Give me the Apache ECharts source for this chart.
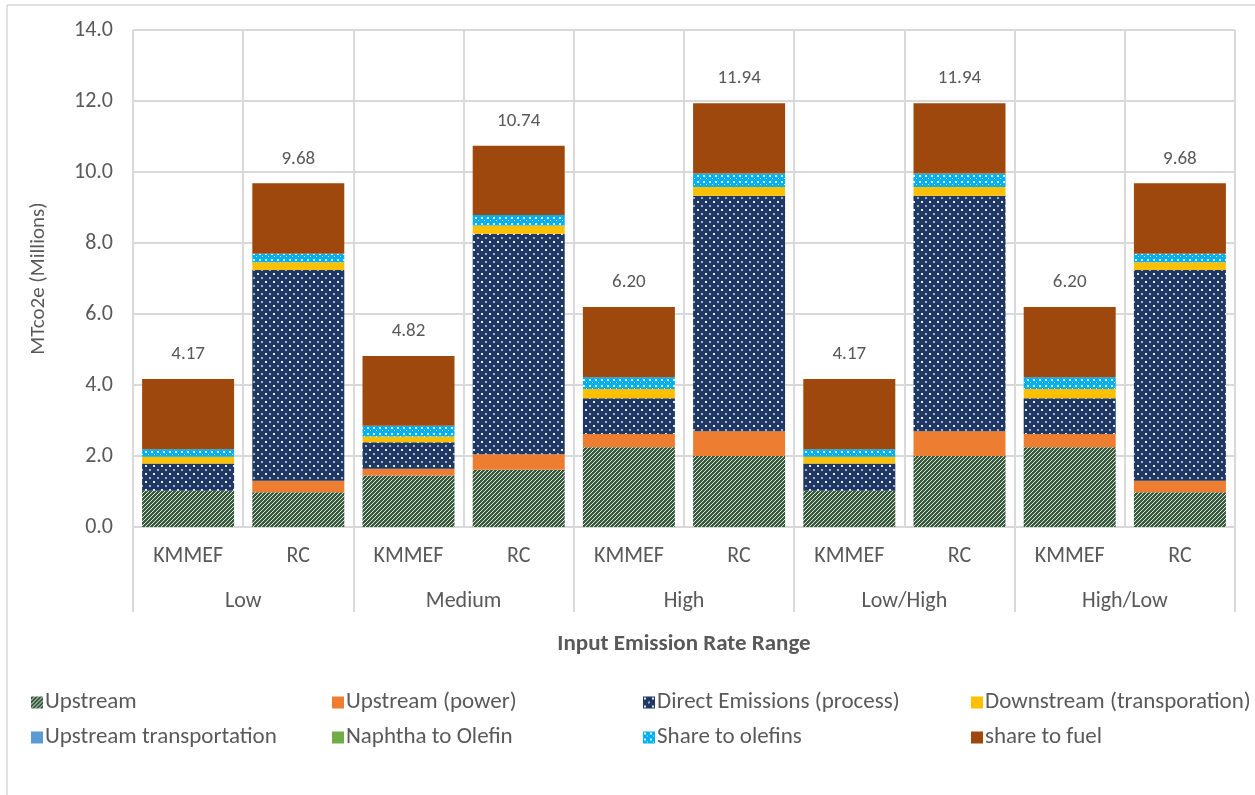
<!DOCTYPE html>
<html>
<head>
<meta charset="utf-8">
<script src="https://cdn.jsdelivr.net/npm/echarts@6/dist/echarts.min.js"></script>
<style>
  html, body { margin: 0; padding: 0; background: #fff; }
  #chart { width: 1255px; height: 795px; }
</style>
</head>
<body>
<div id="chart"></div>
<script>
// Scenario groups and the two models compared in each
const groups = ['Low', 'Medium', 'High', 'Low/High', 'High/Low'];
const models = ['KMMEF', 'RC', 'KMMEF', 'RC', 'KMMEF', 'RC', 'KMMEF', 'RC', 'KMMEF', 'RC'];

// Emission components, MTco2e (millions), one value per bar
const upstream          = [1.02, 0.98, 1.45, 1.61, 2.25, 2.00, 1.02, 2.00, 2.25, 0.98];
const upstreamPower     = [0.00, 0.32, 0.19, 0.44, 0.37, 0.70, 0.00, 0.70, 0.37, 0.32];
const directEmissions   = [0.77, 5.94, 0.75, 6.21, 1.01, 6.63, 0.77, 6.63, 1.01, 5.94];
const downstream        = [0.19, 0.22, 0.16, 0.23, 0.26, 0.25, 0.19, 0.25, 0.26, 0.22];
const upstreamTransport = [0, 0, 0, 0, 0, 0, 0, 0, 0, 0];
const naphthaToOlefin   = [0, 0, 0, 0, 0, 0, 0, 0, 0, 0];
const shareToOlefins    = [0.21, 0.24, 0.30, 0.30, 0.33, 0.38, 0.21, 0.38, 0.33, 0.24];
const shareToFuel       = [1.98, 1.98, 1.97, 1.95, 1.98, 1.98, 1.98, 1.98, 1.98, 1.98];

const yTicks = { min: 0, max: 14, step: 2 };

// Stack totals shown above each bar
const components = [upstream, upstreamPower, directEmissions, downstream,
                    upstreamTransport, naphthaToOlefin, shareToOlefins, shareToFuel];
const totals = models.map((_, i) => components.reduce((s, arr) => s + arr[i], 0));

// Tiled fill patterns
function tile(bg, w, h, draw) {
  const c = document.createElement('canvas');
  c.width = w; c.height = h;
  const ctx = c.getContext('2d');
  ctx.fillStyle = bg;
  ctx.fillRect(0, 0, w, h);
  draw(ctx);
  return { image: c, repeat: 'repeat' };
}
const diagGreen = tile('#375a3c', 4, 4, ctx => {
  ctx.fillStyle = 'rgba(255,255,255,0.85)';
  for (let i = 0; i < 4; i++) ctx.fillRect(i, 3 - i, 1, 1);
});
const navyDots = tile('#1f3864', 8, 8, ctx => {
  ctx.fillStyle = 'rgba(255,255,255,0.9)';
  ctx.fillRect(1, 1, 2, 2);
  ctx.fillStyle = 'rgba(255,255,255,0.6)';
  ctx.fillRect(5, 5, 2, 2);
});
const blueDots = tile('#00b0f0', 6, 6, ctx => {
  ctx.fillStyle = 'rgba(255,255,255,0.9)';
  ctx.fillRect(1, 1, 2, 2);
  ctx.fillRect(4, 4, 1, 1);
});

const FONT = 'Calibri, Carlito, Lato, sans-serif';
const TXT = '#595959';

function barSeries(name, data, color) {
  return {
    name, type: 'bar', stack: 'total', data,
    xAxisIndex: 0, barWidth: 92,
    itemStyle: { color },
    emphasis: { disabled: true }
  };
}

const series = [
  barSeries('Upstream', upstream, diagGreen),
  barSeries('Upstream (power)', upstreamPower, '#ed7d31'),
  barSeries('Direct Emissions (process)', directEmissions, navyDots),
  barSeries('Downstream (transporation)', downstream, '#ffc000'),
  barSeries('Upstream transportation', upstreamTransport, '#5b9bd5'),
  barSeries('Naphtha to Olefin', naphthaToOlefin, '#70ad47'),
  barSeries('Share to olefins', shareToOlefins, blueDots),
  barSeries('share to fuel', shareToFuel, '#9e480e')
];
series[7].label = {
  show: true, position: 'top', distance: 15,
  color: TXT, fontFamily: FONT, fontSize: 19,
  formatter: p => totals[p.dataIndex].toFixed(2)
};

const legendBase = {
  orient: 'vertical', top: 686, itemWidth: 12, itemHeight: 12, itemGap: 12,
  icon: 'rect', selectedMode: false,
  textStyle: { color: TXT, fontFamily: FONT, fontSize: 23, padding: [0, 0, 0, -3] }
};

const option = {
  animation: false,
  backgroundColor: '#fff',
  grid: { left: 133, right: 20, top: 30, bottom: 268 },
  legend: [
    Object.assign({}, legendBase, { left: 26,  data: ['Upstream', 'Upstream transportation'] }),
    Object.assign({}, legendBase, { left: 327, data: ['Upstream (power)', 'Naphtha to Olefin'] }),
    Object.assign({}, legendBase, { left: 638, data: ['Direct Emissions (process)', 'Share to olefins'] }),
    Object.assign({}, legendBase, { left: 966, data: ['Downstream (transporation)', 'share to fuel'] })
  ],
  xAxis: [
    {
      type: 'category', data: models, position: 'bottom',
      axisLine: { show: true, lineStyle: { color: '#d9d9d9', width: 2 } },
      axisTick: { show: false },
      splitLine: { show: true, interval: 0, lineStyle: { color: '#d9d9d9', width: 2 } },
      axisLabel: { interval: 0, margin: 18, color: TXT, fontFamily: FONT, fontSize: 22 }
    },
    {
      type: 'category', data: groups, position: 'bottom',
      axisLine: { show: false },
      axisTick: { show: true, interval: 0, length: 85, lineStyle: { color: '#d9d9d9', width: 2 } },
      splitLine: { show: false },
      axisLabel: { interval: 0, margin: 63, color: TXT, fontFamily: FONT, fontSize: 22 },
      name: 'Input Emission Rate Range', nameLocation: 'middle', nameGap: 106,
      nameTextStyle: { color: TXT, fontFamily: FONT, fontSize: 23, fontWeight: 'bold' }
    }
  ],
  yAxis: {
    type: 'value', min: yTicks.min, max: yTicks.max, interval: yTicks.step,
    axisLine: { show: false }, axisTick: { show: false },
    splitLine: { lineStyle: { color: '#d9d9d9', width: 2 } },
    axisLabel: { margin: 20, color: TXT, fontFamily: FONT, fontSize: 22,
                 formatter: v => v.toFixed(1) },
    name: 'MTco2e (Millions)', nameLocation: 'middle', nameGap: 84, nameRotate: 90,
    nameTextStyle: { color: TXT, fontFamily: FONT, fontSize: 21 }
  },
  graphic: [
    { type: 'line', shape: { x1: 7, y1: 5, x2: 1255, y2: 5 }, style: { stroke: '#d9d9d9', lineWidth: 1.5 } },
    { type: 'line', shape: { x1: 7, y1: 5, x2: 7, y2: 795 }, style: { stroke: '#d9d9d9', lineWidth: 1.5 } }
  ],
  series
};

const chart = echarts.init(document.getElementById('chart'), null, { renderer: 'canvas' });
chart.setOption(option);
</script>
</body>
</html>
